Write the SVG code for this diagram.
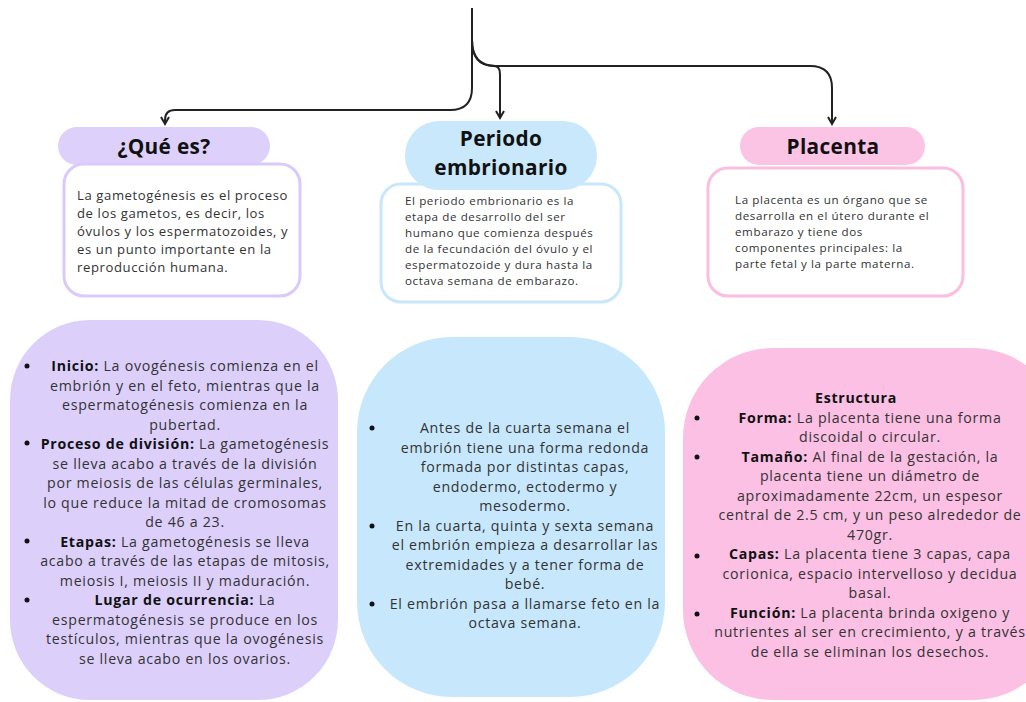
<svg xmlns="http://www.w3.org/2000/svg" width="1026" height="702" viewBox="0 0 1026 702">
<defs>
<marker id="arr" viewBox="0 0 10 10" refX="8" refY="5" markerWidth="5" markerHeight="5" orient="auto" markerUnits="strokeWidth">
<path d="M1,1 L8,5 L1,9" fill="none" stroke="#222" stroke-width="2"/>
</marker>
<style>
.c{fill:none;stroke:#222;stroke-width:2}
.h{font-family:"Open Sans","Noto Sans",sans-serif;font-weight:700;font-size:20.8px;letter-spacing:0.35px;fill:#111;text-anchor:middle}
.s{font-family:"Open Sans","Noto Sans",sans-serif;font-size:11.6px;letter-spacing:0.6px;fill:#333}
.m{font-family:"Open Sans","Noto Sans",sans-serif;font-size:13.1px;letter-spacing:0.6px;fill:#333}
.b{font-family:"Open Sans","Noto Sans",sans-serif;font-size:14.2px;letter-spacing:0.72px;fill:#333;text-anchor:middle}
.k{font-weight:700;fill:#111}
.d{fill:#111}
</style>
</defs>
<rect width="1026" height="702" fill="#fff"/>
<g id="connectors">
<path class="c" d="M472,8 V88 Q472,110 450,110 H175 Q165,110 165,120 V124" marker-end="url(#arr)"/>
<path class="c" d="M472,40 Q472,66 494,66 Q500,66 500,74 V118" marker-end="url(#arr)"/>
<path class="c" d="M472,40 Q472,66 496,66 H810 Q832,66 832,88 V124" marker-end="url(#arr)"/>
</g>
<g id="que-es">
<rect x="58" y="127" width="212" height="38" rx="19" fill="#DDD0FB"/>
<text class="h" x="164" y="154">¿Qué es?</text>
</g>
<g id="que-es-desc">
<rect x="64" y="164" width="236" height="132" rx="20" fill="#fff" stroke="#D9CAFB" stroke-width="3"/>
<text class="m"><tspan x="77" y="200">La gametogénesis es el proceso</tspan><tspan x="77" y="218">de los gametos, es decir, los</tspan><tspan x="77" y="236">óvulos y los espermatozoides, y</tspan><tspan x="77" y="254">es un punto importante en la</tspan><tspan x="77" y="272">reproducción humana.</tspan></text>
</g>
<g id="periodo-desc">
<rect x="381" y="184" width="240" height="118" rx="20" fill="#fff" stroke="#C8E7FB" stroke-width="3"/>
<text class="s"><tspan x="405" y="205">El periodo embrionario es la</tspan><tspan x="405" y="221">etapa de desarrollo del ser</tspan><tspan x="405" y="237">humano que comienza después</tspan><tspan x="405" y="253">de la fecundación del óvulo y el</tspan><tspan x="405" y="269">espermatozoide y dura hasta la</tspan><tspan x="405" y="285">octava semana de embarazo.</tspan></text>
</g>
<g id="periodo">
<rect x="405" y="121" width="192" height="69" rx="34" fill="#C9E8FB"/>
<text class="h" x="501" y="146">Periodo</text>
<text class="h" x="501" y="175">embrionario</text>
</g>
<g id="placenta">
<rect x="740" y="127" width="185" height="38" rx="19" fill="#FBC3E4"/>
<text class="h" x="833" y="154">Placenta</text>
</g>
<g id="placenta-desc">
<rect x="708" y="168" width="255" height="128" rx="20" fill="#fff" stroke="#F9BEE0" stroke-width="3"/>
<text class="s"><tspan x="735" y="204">La placenta es un órgano que se</tspan><tspan x="735" y="220">desarrolla en el útero durante el</tspan><tspan x="735" y="236">embarazo y tiene dos</tspan><tspan x="735" y="252">componentes principales: la</tspan><tspan x="735" y="268">parte fetal y la parte materna.</tspan></text>
</g>
<g id="gametogenesis-detalle">
<rect x="10" y="320" width="328" height="380" rx="80" fill="#DCD0FB"/>
<g class="d"><circle cx="27" cy="366" r="2.5"/><circle cx="27" cy="443" r="2.5"/><circle cx="27" cy="541" r="2.5"/><circle cx="27" cy="600" r="2.5"/></g>
<text class="b"><tspan x="185" y="371"><tspan class="k">Inicio:</tspan> La ovogénesis comienza en el</tspan><tspan x="185" y="390.5">embrión y en el feto, mientras que la</tspan><tspan x="185" y="410">espermatogénesis comienza en la</tspan><tspan x="185" y="429.5">pubertad.</tspan><tspan x="185" y="449"><tspan class="k">Proceso de división:</tspan> La gametogénesis</tspan><tspan x="185" y="468.5">se lleva acabo a través de la división</tspan><tspan x="185" y="488">por meiosis de las células germinales,</tspan><tspan x="185" y="507.5">lo que reduce la mitad de cromosomas</tspan><tspan x="185" y="527">de 46 a 23.</tspan><tspan x="185" y="546.5"><tspan class="k">Etapas:</tspan> La gametogénesis se lleva</tspan><tspan x="185" y="566">acabo a través de las etapas de mitosis,</tspan><tspan x="185" y="585.5">meiosis I, meiosis II y maduración.</tspan><tspan x="185" y="605"><tspan class="k">Lugar de ocurrencia:</tspan> La</tspan><tspan x="185" y="624.5">espermatogénesis se produce en los</tspan><tspan x="185" y="644">testículos, mientras que la ovogénesis</tspan><tspan x="185" y="663.5">se lleva acabo en los ovarios.</tspan></text>
</g>
<g id="embrionario-detalle">
<rect x="357" y="337" width="308" height="360" rx="95" fill="#C7E8FC"/>
<g class="d"><circle cx="372" cy="428" r="2.5"/><circle cx="372" cy="526" r="2.5"/><circle cx="372" cy="604" r="2.5"/></g>
<text class="b"><tspan x="525" y="433">Antes de la cuarta semana el</tspan><tspan x="525" y="452.5">embrión tiene una forma redonda</tspan><tspan x="525" y="472">formada por distintas capas,</tspan><tspan x="525" y="491.5">endodermo, ectodermo y</tspan><tspan x="525" y="511">mesodermo.</tspan><tspan x="525" y="530.5">En la cuarta, quinta y sexta semana</tspan><tspan x="525" y="550">el embrión empieza a desarrollar las</tspan><tspan x="525" y="569.5">extremidades y a tener forma de</tspan><tspan x="525" y="589">bebé.</tspan><tspan x="525" y="608.5">El embrión pasa a llamarse feto en la</tspan><tspan x="525" y="628">octava semana.</tspan></text>
</g>
<g id="placenta-detalle">
<rect x="683" y="348" width="380" height="352" rx="90" fill="#FBC0E3"/>
<g class="d"><circle cx="697" cy="418" r="2.5"/><circle cx="697" cy="457" r="2.5"/><circle cx="697" cy="556" r="2.5"/><circle cx="697" cy="614" r="2.5"/></g>
<text class="b"><tspan x="856" y="403" class="k">Estructura</tspan><tspan x="870" y="422.5"><tspan class="k">Forma:</tspan> La placenta tiene una forma</tspan><tspan x="870" y="442">discoidal o circular.</tspan><tspan x="870" y="461.5"><tspan class="k">Tamaño:</tspan> Al final de la gestación, la</tspan><tspan x="870" y="481">placenta tiene un diámetro  de</tspan><tspan x="870" y="500.5">aproximadamente 22cm, un espesor</tspan><tspan x="870" y="520">central de 2.5 cm, y un peso alrededor de</tspan><tspan x="870" y="539.5">470gr.</tspan><tspan x="870" y="559"><tspan class="k">Capas:</tspan> La placenta tiene 3 capas, capa</tspan><tspan x="870" y="578.5">corionica, espacio intervelloso y decidua</tspan><tspan x="870" y="598">basal.</tspan><tspan x="870" y="617.5"><tspan class="k">Función:</tspan> La placenta brinda oxigeno y</tspan><tspan x="870" y="637">nutrientes al ser en crecimiento, y a través</tspan><tspan x="870" y="656.5">de ella se eliminan los desechos.</tspan></text>
</g>
</svg>
